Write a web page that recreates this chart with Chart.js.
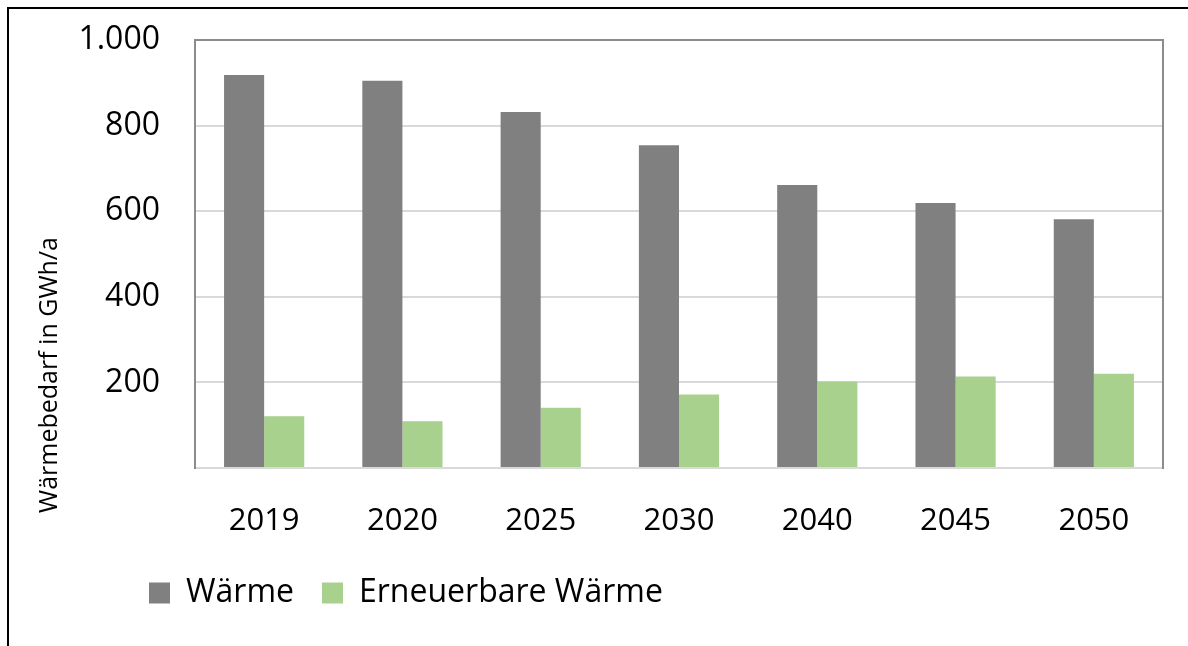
<!DOCTYPE html>
<html>
<head>
<meta charset="utf-8">
<script src="https://cdn.jsdelivr.net/npm/chart.js@4"></script>
<style>
  html, body { margin: 0; padding: 0; background: #fff; }
  #wrap { position: relative; width: 1188px; height: 646px; overflow: hidden; }
  #frame { position: absolute; left: 7px; top: 7px; right: -10px; bottom: -10px;
           border-left: 2px solid #000; border-top: 2px solid #000; pointer-events: none; }
</style>
</head>
<body>
<div id="wrap">
  <canvas id="chart" width="1188" height="646"></canvas>
  <div id="frame"></div>
</div>
<script>
// Daten
const years = ['2019', '2020', '2025', '2030', '2040', '2045', '2050'];
const waerme = [918, 905, 832, 754, 661, 619, 581];
const erneuerbar = [121, 109, 141, 172, 202, 214, 220];
const yTicks = [0, 200, 400, 600, 800, 1000];
const yTickLabels = ['', '200', '400', '600', '800', '1.000'];

const font = 'Open Sans';
const darkLine = '#8c8c8c';
const lightLine = '#d9d9d9';
const titleShift = 121; // Achsentitel sitzt im Original tiefer als die Mitte

// Legende nach rechts schieben, Achsentitel nach unten
const layoutTweaks = {
    id: 'layoutTweaks',
    afterLayout(chart) {
        chart.legend.left = 121;
        const y = chart.scales.y;
        if (!y._titlePatched) {
            const drawTitle = y.drawTitle;
            y.drawTitle = function () {
                this.top += titleShift;
                this.bottom += titleShift;
                drawTitle.call(this);
                this.top -= titleShift;
                this.bottom -= titleShift;
            };
            y._titlePatched = true;
        }
    }
};

new Chart(document.getElementById('chart'), {
    type: 'bar',
    data: {
        labels: years,
        datasets: [
            { label: 'Wärme', data: waerme, backgroundColor: '#808080' },
            { label: 'Erneuerbare Wärme', data: erneuerbar, backgroundColor: '#a9d18e' }
        ]
    },
    options: {
        responsive: false,
        animation: false,
        layout: { padding: { left: 20, right: 25, top: 40, bottom: 27 } },
        datasets: { bar: { categoryPercentage: 0.58, barPercentage: 1.0, borderWidth: 0 } },
        scales: {
            x: {
                grid: { display: false },
                border: { color: lightLine, width: 2 },
                ticks: { color: '#000', font: { family: font, size: 31 }, padding: 27 },
                afterFit: s => { s.height = 81; }
            },
            y: {
                min: 0,
                max: 1000,
                afterBuildTicks: s => { s.ticks = yTicks.map(v => ({ value: v })); },
                grid: {
                    color: c => c.tick && c.tick.value === 1000 ? darkLine : lightLine,
                    lineWidth: 2,
                    drawTicks: true,
                    tickLength: 35,
                    tickColor: 'rgba(0,0,0,0)'
                },
                border: { color: darkLine, width: 2 },
                ticks: {
                    color: '#000',
                    font: { family: font, size: 32 },
                    padding: 0,
                    callback: v => yTickLabels[yTicks.indexOf(v)]
                },
                title: {
                    display: true,
                    text: 'Wärmebedarf in GWh/a',
                    color: '#000',
                    font: { family: font, size: 25 },
                    padding: { top: 15, bottom: 0 }
                },
                afterFit: s => { s.width = 175; }
            },
            y2: {
                position: 'right',
                grid: { display: false },
                ticks: { display: false },
                border: { color: darkLine, width: 2 },
                afterFit: s => { s.width = 0; }
            }
        },
        plugins: {
            legend: {
                position: 'bottom',
                align: 'start',
                labels: {
                    color: '#000',
                    font: { family: font, size: 32 },
                    boxWidth: 21,
                    boxHeight: 21,
                    padding: 28
                }
            },
            tooltip: { enabled: false }
        }
    },
    plugins: [layoutTweaks]
});
</script>
</body>
</html>
